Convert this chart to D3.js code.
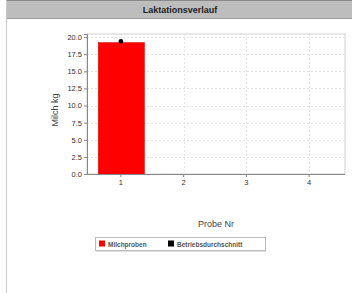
<!DOCTYPE html>
<html>
<head>
<meta charset="utf-8">
<script src="https://cdn.jsdelivr.net/npm/d3@7"></script>
<style>
  body { margin: 0; background: #fff; }
  svg { display: block; font-family: "Liberation Sans", Arial, sans-serif; }
</style>
</head>
<body>
<svg id="chart" width="352" height="293"></svg>
<script>
// donnees
const proben = ["1", "2", "3", "4"];
const milchproben = [19.2, null, null, null];
const betriebsdurchschnitt = [19.4, null, null, null];
const yTicks = [0, 2.5, 5, 7.5, 10, 12.5, 15, 17.5, 20];

const svg = d3.select("#chart");

// cadre + bandeau titre
svg.append("rect").attr("x", 6).attr("y", 0).attr("width", 346).attr("height", 19)
  .attr("fill", "#bdbdbd");
svg.append("line").attr("x1", 6).attr("x2", 352).attr("y1", 0.5).attr("y2", 0.5)
  .attr("stroke", "#8a8a8a");
svg.append("line").attr("x1", 6).attr("x2", 352).attr("y1", 18.5).attr("y2", 18.5)
  .attr("stroke", "#9a9a9a");
svg.append("line").attr("x1", 6.5).attr("x2", 6.5).attr("y1", 0).attr("y2", 293)
  .attr("stroke", "#c8c8c8");
svg.append("text").attr("x", 180).attr("y", 13).attr("text-anchor", "middle")
  .attr("font-size", 9).attr("font-weight", "bold").attr("fill", "#222")
  .text("Laktationsverlauf");

const plot = {left: 87, right: 345, top: 34, bottom: 174};

const x = d3.scaleBand().domain(proben).range([89.5, 340.5]).paddingInner(0.28).paddingOuter(0.14);
const y = d3.scaleLinear().domain([0, 20.45]).range([plot.bottom, plot.top]);

// fond + grille
svg.append("rect").attr("x", plot.left).attr("y", plot.top)
  .attr("width", plot.right - plot.left).attr("height", plot.bottom - plot.top)
  .attr("fill", "#fff").attr("stroke", "#cfcfcf");

svg.append("g").selectAll("line").data(yTicks.slice(1)).join("line")
  .attr("x1", plot.left).attr("x2", plot.right)
  .attr("y1", d => Math.round(y(d)) + 0.5).attr("y2", d => Math.round(y(d)) + 0.5)
  .attr("stroke", "#e4e4e4").attr("stroke-dasharray", "2,2");

svg.append("g").selectAll("line").data(proben).join("line")
  .attr("x1", d => Math.round(x(d) + x.bandwidth() / 2) + 0.5)
  .attr("x2", d => Math.round(x(d) + x.bandwidth() / 2) + 0.5)
  .attr("y1", plot.top).attr("y2", plot.bottom)
  .attr("stroke", "#e4e4e4").attr("stroke-dasharray", "2,2");

// barres
svg.append("g").selectAll("rect").data(proben.filter((d, i) => milchproben[i] != null)).join("rect")
  .attr("x", d => x(d))
  .attr("y", d => y(milchproben[proben.indexOf(d)]))
  .attr("width", x.bandwidth() + 1)
  .attr("height", d => plot.bottom - y(milchproben[proben.indexOf(d)]))
  .attr("fill", "#ff0000").attr("stroke", "#d00000").attr("stroke-width", 0.5);

// moyenne exploitation
svg.append("g").selectAll("circle").data(proben.filter((d, i) => betriebsdurchschnitt[i] != null)).join("circle")
  .attr("cx", d => x(d) + x.bandwidth() / 2)
  .attr("cy", d => y(betriebsdurchschnitt[proben.indexOf(d)]))
  .attr("r", 2.3).attr("fill", "#000");

// axes
const yAxis = svg.append("g").attr("transform", `translate(${plot.left},0)`)
  .call(d3.axisLeft(y).tickValues(yTicks).tickFormat(d3.format(".1f")).tickSize(3).tickPadding(2));
const xAxis = svg.append("g").attr("transform", `translate(0,${plot.bottom})`)
  .call(d3.axisBottom(x).tickSize(3).tickPadding(3));
[yAxis, xAxis].forEach(a => {
  a.select(".domain").attr("stroke", "#888");
  a.selectAll(".tick line").attr("stroke", "#888");
  a.selectAll(".tick text").attr("font-size", 7.5).attr("fill", "#333")
    .attr("font-family", "Liberation Sans, Arial, sans-serif");
});
xAxis.select(".domain").attr("d", `M${plot.left},0.5H${plot.right}`);

svg.append("text").attr("transform", "translate(58,110) rotate(-90)")
  .attr("text-anchor", "middle").attr("font-size", 9).attr("fill", "#444")
  .text("Milch kg");
svg.append("text").attr("x", 216).attr("y", 227).attr("text-anchor", "middle")
  .attr("font-size", 9).attr("fill", "#444").text("Probe Nr");

// legende
const leg = svg.append("g");
leg.append("rect").attr("x", 95.5).attr("y", 237.5).attr("width", 170).attr("height", 13)
  .attr("fill", "#fff").attr("stroke", "#bbb");
leg.append("line").attr("x1", 96).attr("x2", 266).attr("y1", 251.5).attr("y2", 251.5).attr("stroke", "#ddd");
const items = [
  {label: "Milchproben", color: "#ff0000", x: 99},
  {label: "Betriebsdurchschnitt", color: "#000", x: 168}
];
items.forEach(it => {
  leg.append("rect").attr("x", it.x).attr("y", 240.5).attr("width", 6).attr("height", 6).attr("fill", it.color);
  leg.append("text").attr("x", it.x + 9).attr("y", 247).attr("font-size", 6.5)
    .attr("font-weight", "bold").attr("fill", "#555").text(it.label);
});
</script>
</body>
</html>
